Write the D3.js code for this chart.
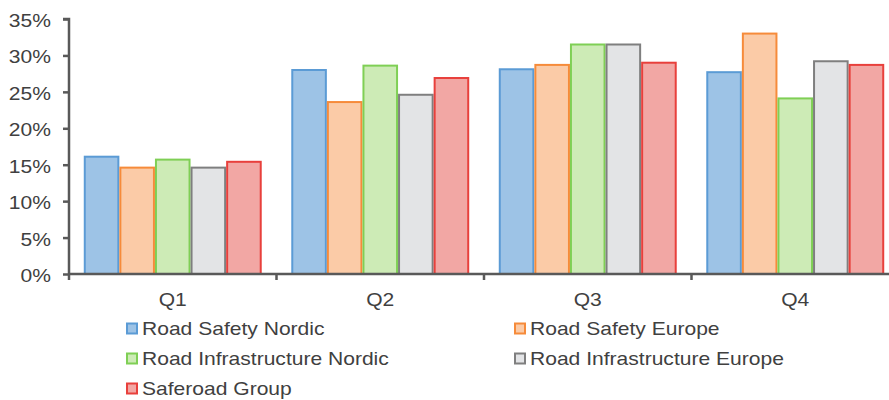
<!DOCTYPE html>
<html>
<head>
<meta charset="utf-8">
<script src="https://cdn.jsdelivr.net/npm/d3@7"></script>
<style>
  html, body { margin: 0; padding: 0; background: #fff; }
  svg { display: block; font-family: "Liberation Sans", Arial, sans-serif; }
</style>
</head>
<body>
<svg id="chart" width="889" height="400"></svg>
<script>
// Quarterly shares per business area (%)
const quarters = ["Q1", "Q2", "Q3", "Q4"];
const seriesNames = [
  "Road Safety Nordic",
  "Road Safety Europe",
  "Road Infrastructure Nordic",
  "Road Infrastructure Europe",
  "Saferoad Group"
];
const roadSafetyNordic = [16.1, 28.0, 28.1, 27.7];
const roadSafetyEurope = [14.6, 23.6, 28.7, 33.0];
const roadInfraNordic = [15.7, 28.6, 31.5, 24.1];
const roadInfraEurope = [14.6, 24.6, 31.5, 29.2];
const saferoadGroup = [15.4, 26.9, 29.0, 28.7];
const yTicks = [0, 5, 10, 15, 20, 25, 30, 35];

const seriesValues = [roadSafetyNordic, roadSafetyEurope, roadInfraNordic, roadInfraEurope, saferoadGroup];
const fills = ["#9dc3e6", "#fbcba7", "#cdebb6", "#e3e4e6", "#f2a7a4"];
const strokes = ["#5b9bd5", "#f68b3a", "#7fcf55", "#7f7f7f", "#e8403c"];

const textColor = "#404040";
const axisColor = "#595959";
const fontSize = 18;
const stretch = 1.17;

const svg = d3.select("#chart");

const x0 = d3.scaleBand().domain(quarters).range([69, 899]).padding(0);
const x1 = d3.scaleBand().domain(d3.range(seriesNames.length))
  .range([0, x0.bandwidth()]).paddingInner(0).paddingOuter(0.415);
const y = d3.scaleLinear().domain([0, 35]).range([274, 19]);

// Bars
const groups = svg.append("g").selectAll("g")
  .data(quarters)
  .join("g")
  .attr("transform", q => `translate(${x0(q)},0)`);

groups.selectAll("rect")
  .data((q, qi) => seriesValues.map((vals, si) => ({ si, v: vals[qi] })))
  .join("rect")
  .attr("x", d => x1(d.si) + 1)
  .attr("y", d => y(d.v))
  .attr("width", x1.bandwidth() - 2)
  .attr("height", d => y(0) - y(d.v))
  .attr("fill", d => fills[d.si])
  .attr("stroke", d => strokes[d.si])
  .attr("stroke-width", 2);

// Y axis
const yAxis = svg.append("g")
  .attr("transform", "translate(69,0)")
  .call(d3.axisLeft(y).tickValues(yTicks).tickSize(6).tickFormat(d => d + "%"));
yAxis.select(".domain").attr("stroke", axisColor).attr("stroke-width", 2.5)
  .attr("d", `M-6,${y(35)}H0V${y(0)}`);
yAxis.selectAll(".tick line").attr("stroke", axisColor).attr("stroke-width", 2.5);
yAxis.selectAll(".tick text")
  .attr("x", null).attr("dy", null)
  .attr("fill", textColor)
  .attr("font-size", fontSize)
  .attr("text-anchor", "end")
  .attr("dominant-baseline", "central")
  .attr("transform", `translate(-18,1) scale(${stretch},1)`);

// X axis
const xAxis = svg.append("g")
  .attr("transform", `translate(0,${y(0)})`)
  .call(d3.axisBottom(x0).tickSize(0).tickSizeOuter(0));
xAxis.select(".domain").attr("stroke", axisColor).attr("stroke-width", 2.5)
  .attr("d", `M69,0H899`);
xAxis.selectAll(".tick text")
  .attr("y", null).attr("dy", null)
  .attr("fill", textColor)
  .attr("font-size", fontSize)
  .attr("text-anchor", "middle")
  .attr("transform", `translate(0,32) scale(${stretch},1)`);
// category separators
xAxis.append("g").selectAll("line")
  .data(quarters)
  .join("line")
  .attr("x1", q => x0(q)).attr("x2", q => x0(q))
  .attr("y1", 0).attr("y2", 6)
  .attr("stroke", axisColor).attr("stroke-width", 2.5);

// Legend
const legendPos = [
  [126, 329], [514, 329],
  [126, 359], [514, 359],
  [126, 389]
];
const legend = svg.append("g").selectAll("g")
  .data(seriesNames)
  .join("g")
  .attr("transform", (d, i) => `translate(${legendPos[i][0]},${legendPos[i][1]})`);
legend.append("rect")
  .attr("x", 1).attr("y", -5.5)
  .attr("width", 10).attr("height", 10)
  .attr("fill", (d, i) => fills[i])
  .attr("stroke", (d, i) => strokes[i])
  .attr("stroke-width", 2);
legend.append("text")
  .attr("transform", `translate(16,0) scale(${stretch},1)`)
  .attr("dominant-baseline", "central")
  .attr("fill", textColor)
  .attr("font-size", fontSize)
  .text(d => d);
</script>
</body>
</html>
